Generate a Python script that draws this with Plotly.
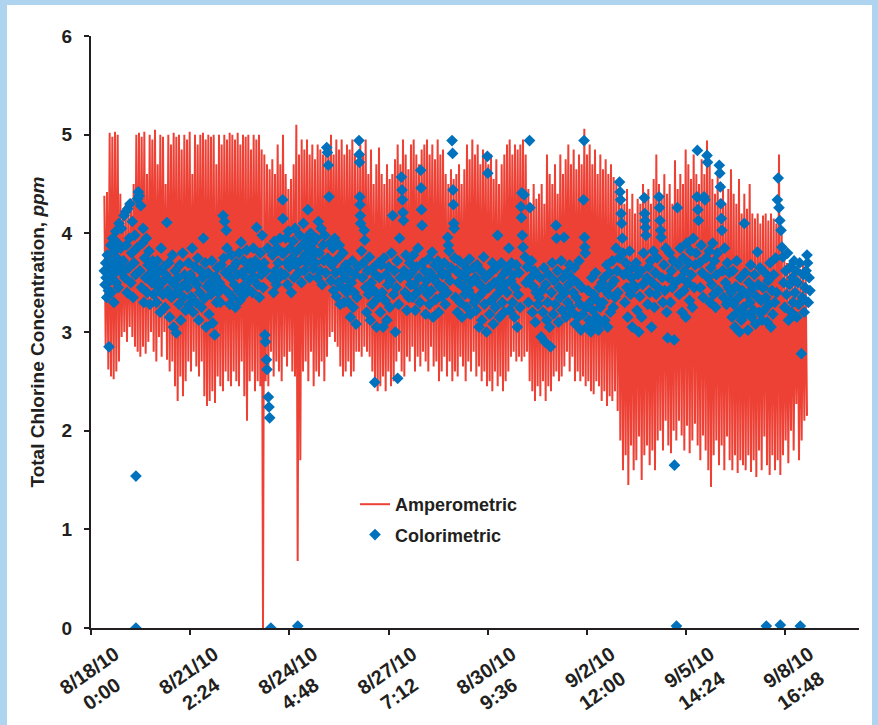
import pandas as pd
import plotly.graph_objects as go

# ---------------- data ----------------
# Amperometric readings (ppm), hourly from 8/18/10 10:00 (alternating swings)
amperometric = [
    4.38,2.85, 4.42,2.62, 5.02,2.55, 4.98,2.52, 5.03,2.6, 5.0,2.7, 4.4,2.95, 4.2,3.0, 4.3,2.9, 4.25,3.05, 4.35,2.95, 4.5,2.85,
    5.0,2.8, 5.02,2.75, 4.98,2.85, 5.03,2.78, 4.6,2.9, 5.0,3.0, 4.95,2.8, 5.05,2.7, 4.7,2.95, 5.0,2.75, 4.98,3.0, 4.5,2.72,
    5.0,2.6, 4.9,2.7, 5.02,2.45, 4.98,2.3, 5.0,2.55, 4.85,2.35, 5.0,2.5, 4.95,2.7, 5.03,2.6, 4.6,2.8, 5.0,2.65, 4.9,2.55,
    5.0,2.7, 5.02,2.35, 4.95,2.25, 5.0,2.3, 4.98,2.4, 5.0,2.28, 4.7,2.55, 5.0,2.45, 4.9,2.4, 5.0,2.6, 4.95,2.5, 5.02,2.45,
    5.0,2.6, 4.95,2.5, 5.02,2.45, 4.9,2.7, 5.0,2.35, 4.98,2.1, 5.0,2.5, 4.85,2.6, 5.0,2.4, 4.95,2.5, 5.0,2.45, 4.85,0.0,
    4.8,2.5, 4.7,2.45, 4.65,2.8, 4.75,2.55, 4.6,2.7, 4.9,2.6, 4.7,2.5, 5.0,2.75, 4.6,2.65, 4.45,2.8, 4.55,2.6, 4.7,2.55,
    5.1,0.68, 4.8,1.7, 4.95,2.6, 4.85,2.7, 4.95,2.5, 4.8,2.8, 4.9,2.45, 4.75,2.6, 4.9,2.55, 4.85,2.7, 4.8,2.5, 4.9,2.75,
    4.9,2.95, 5.0,3.0, 4.8,2.9, 4.95,2.85, 4.85,2.65, 4.95,2.55, 4.8,2.6, 4.9,2.7, 4.85,2.55, 4.95,2.6, 4.8,2.8, 4.7,2.8,
    4.9,2.75, 4.8,2.85, 4.95,2.8, 4.6,2.75, 4.85,2.6, 4.5,2.5, 4.7,2.4, 4.87,2.45, 4.6,2.55, 4.5,2.4, 4.7,2.6, 4.55,2.45,
    4.6,2.5, 4.75,2.7, 4.9,2.8, 4.7,2.6, 4.95,2.55, 4.8,2.75, 4.65,2.7, 4.9,2.85, 4.95,2.6, 4.8,2.75, 4.7,2.65, 4.85,2.8,
    4.9,2.7, 4.95,2.6, 4.8,2.85, 4.9,2.65, 4.75,2.7, 4.95,2.5, 4.8,2.6, 4.85,2.75, 4.6,2.55, 4.5,2.7, 4.65,2.5, 4.55,2.6,
    4.6,2.55, 4.7,2.75, 4.5,2.65, 4.65,2.5, 4.9,2.7, 4.75,2.6, 4.95,2.8, 4.8,2.55, 4.9,2.65, 4.7,2.5, 4.85,2.6, 4.75,2.45,
    4.7,2.5, 4.8,2.4, 4.55,2.6, 4.75,2.45, 4.5,2.55, 4.7,2.4, 4.8,2.5, 4.9,2.6, 4.95,2.75, 4.8,2.8, 4.9,2.7, 4.85,2.75,
    4.9,2.7, 4.95,2.75, 4.8,2.8, 4.45,2.5, 4.3,2.4, 4.5,2.3, 4.35,2.45, 4.4,2.35, 4.5,2.5, 4.3,2.3, 4.8,2.45, 4.6,2.4,
    4.5,2.55, 4.7,2.6, 4.4,2.5, 4.8,2.55, 4.6,2.65, 4.75,2.8, 4.9,2.6, 4.7,2.75, 4.85,2.5, 4.65,2.6, 4.8,2.5, 4.7,2.55,
    5.06,2.45, 4.8,2.5, 4.9,2.4, 4.7,2.37, 4.85,2.5, 4.6,2.45, 4.8,2.3, 4.65,2.4, 4.75,2.25, 4.6,2.35, 4.7,2.3, 4.57,2.4,
    4.5,2.2, 4.35,1.9, 4.4,1.6, 4.3,1.75, 4.45,1.45, 4.25,1.85, 4.4,1.6, 4.2,1.7, 4.35,1.94, 4.3,1.5, 4.5,1.75, 4.4,1.85,
    4.45,1.65, 4.3,1.8, 4.55,1.6, 4.8,1.9, 4.5,2.0, 4.35,1.8, 4.6,2.1, 4.4,1.85, 4.5,1.77, 4.3,2.0, 4.74,1.9, 4.45,2.1,
    4.6,1.95, 4.5,1.8, 4.85,2.05, 4.7,1.77, 4.55,1.9, 4.8,2.07, 4.6,1.85, 4.5,1.7, 4.75,1.95, 4.6,1.8, 4.94,1.6, 4.7,1.43,
    4.55,1.75, 4.4,1.9, 4.6,1.65, 4.35,1.85, 4.5,1.6, 4.3,1.94, 4.45,1.7, 4.65,1.6, 4.4,1.75, 4.3,1.57, 4.55,1.7, 4.2,1.65,
    4.4,1.6, 4.25,1.75, 4.5,1.58, 4.2,1.7, 4.15,1.53, 4.2,1.8, 4.1,1.6, 4.18,1.94, 4.2,1.65, 4.13,1.55, 4.2,1.75, 4.15,1.6,
    4.1,1.7, 4.8,1.55, 4.0,1.75, 3.74,1.9, 3.7,1.67, 3.65,2.0, 3.72,1.8, 3.6,2.27, 3.68,1.7, 3.64,1.9, 3.7,2.1, 3.55,2.15,
]
amp_start = "2010-08-18 10:00"

# Colorimetric grab samples: hours after 8/18/10 0:00 and ppm
col_hours = [
    10.0,10.5,11.0,11.3,11.8,12.2,12.6,13.0,13.5,14.0,14.4,14.8,15.3,15.8,16.2,16.7,17.2,17.6,18.1,18.6,19.0,19.5,20.0,20.5,21.0,21.6,22.2,22.8,23.4,
    24.3,24.8,25.4,26.0,26.5,27.1,27.6,28.2,28.8,29.3,29.9,30.5,31.0,31.6,32.2,32.8,33.4,33.7,33.7,34.3,34.9,35.5,36.1,36.7,37.3,37.9,38.5,39.1,39.7,40.3,40.9,41.5,42.1,42.8,43.5,44.2,44.9,45.6,46.3,47.0,47.7,
    48.4,49.1,49.8,50.5,51.2,51.9,52.6,53.3,54.0,54.7,55.4,56.1,56.9,57.6,58.3,59.0,59.7,60.4,61.1,61.8,62.5,63.2,63.9,64.6,65.3,66.0,66.7,67.4,68.1,68.8,69.5,70.2,70.9,71.6,
    72.4,73.1,73.8,74.5,75.2,75.9,76.6,77.3,78.0,78.7,79.4,80.1,80.8,81.5,82.2,82.9,83.6,84.3,85.0,85.7,86.4,87.1,87.8,88.5,89.2,89.9,90.6,91.3,92.0,92.7,93.4,94.1,94.8,95.5,
    96.3,97.0,97.7,98.4,99.1,99.6,100.2,100.8,101.4,102.0,102.7,103.4,104.1,104.8,105.5,106.2,106.9,107.6,108.3,109.0,109.7,110.4,111.1,111.8,112.5,113.2,113.9,114.6,115.3,116.0,116.7,117.4,118.1,118.8,119.5,
    120.4,121.1,121.8,122.5,123.2,124.2,124.9,125.6,126.3,127.0,127.7,128.4,129.1,129.8,130.4,130.8,131.2,131.6,132.0,132.5,133.0,133.5,134.0,134.9,135.5,136.2,136.9,137.6,138.3,139.0,139.7,140.4,141.1,141.8,142.5,143.2,143.8,143.9,
    144.6,145.3,146.0,146.7,147.4,148.1,148.8,149.5,150.2,150.9,151.6,152.3,153.0,153.7,154.4,155.1,155.8,156.5,157.2,157.9,158.6,159.3,160.0,160.7,161.4,162.1,162.6,163.3,164.0,164.7,165.4,166.1,166.8,167.5,
    168.4,169.1,169.8,170.5,171.2,171.9,172.6,173.3,174.0,174.7,175.4,176.1,176.8,177.3,177.6,178.0,178.5,179.2,179.9,180.6,181.3,182.0,182.7,183.4,184.1,184.8,185.5,186.2,186.9,187.6,188.3,189.0,189.7,190.4,191.1,191.8,
    192.5,193.2,193.9,194.6,195.3,196.0,196.7,197.4,198.1,198.8,199.5,200.2,201.0,201.2,201.4,201.6,201.8,202.0,202.2,202.9,203.6,204.3,205.0,205.3,206.0,206.7,207.4,208.1,208.8,209.5,210.2,210.9,211.6,212.3,212.8,213.5,214.2,214.9,215.6,
    216.3,217.0,217.7,218.4,219.1,219.8,220.5,221.2,221.9,222.6,223.3,224.0,224.7,225.4,226.2,226.9,227.6,228.3,229.0,229.7,230.0,230.7,231.4,232.1,232.8,233.2,233.6,234.0,234.4,234.8,235.5,236.2,236.9,237.6,238.3,239.0,239.7,
    240.4,241.1,241.8,242.5,243.2,243.9,244.6,245.3,246.0,246.7,247.3,247.6,247.9,248.3,248.9,249.6,250.3,251.0,251.7,252.4,253.1,253.8,254.5,255.2,255.9,256.6,257.3,258.0,258.7,259.4,260.1,260.8,261.5,262.2,262.9,263.6,
    264.3,265.0,265.7,266.4,267.1,267.5,268.0,268.5,269.2,270.0,270.8,271.2,271.5,271.8,272.1,272.4,272.7,273.4,274.1,274.8,275.5,276.2,276.9,277.6,278.3,279.0,279.7,280.4,281.1,281.8,282.5,283.2,283.9,284.6,285.3,286.0,286.7,287.4,
    288.2,288.9,289.6,290.3,291.0,291.7,292.4,293.1,293.8,294.5,295.2,295.9,296.6,297.3,297.6,298.3,299.0,299.7,300.4,301.1,301.8,302.5,303.2,303.9,304.6,305.0,305.7,306.4,307.1,307.8,308.5,309.2,309.9,310.6,311.3,
    312.0,312.7,313.4,314.1,314.8,315.5,316.2,316.9,317.6,318.3,319.0,319.7,320.4,321.1,321.8,322.4,322.8,323.1,323.5,324.0,324.8,325.6,326.4,327.1,328.0,328.9,329.2,329.7,330.4,331.1,331.8,332.5,333.2,333.9,334.6,335.3,
    336.2,336.9,337.6,338.3,339.0,339.7,340.4,341.1,341.8,342.5,343.2,343.9,344.6,345.3,346.0,346.7,347.4,348.1,348.8,349.2,349.9,350.6,351.3,352.0,352.7,353.4,354.1,354.8,355.5,356.2,356.9,357.6,358.3,359.0,359.7,
    360.4,361.1,361.8,362.5,363.2,363.9,364.6,365.3,366.0,366.7,367.4,368.1,368.8,369.4,369.8,370.1,370.4,370.7,371.4,372.1,372.8,373.5,374.2,374.9,375.6,376.3,377.0,377.7,378.4,379.1,379.8,380.5,381.2,381.9,382.6,383.3,
    384.0,384.7,385.4,386.1,386.8,387.5,388.2,388.9,389.6,390.3,391.0,391.7,392.4,393.1,393.8,394.5,395.2,395.9,396.4,396.8,397.2,397.6,398.0,398.5,399.0,399.7,400.4,401.1,401.8,402.5,403.2,403.9,404.6,405.3,406.0,406.7,407.4,
    408.1,408.8,409.5,410.2,410.9,411.6,412.3,413.0,413.7,414.4,415.0,415.3,415.6,415.9,416.2,416.9,417.6,418.3,419.0,419.7,420.4,421.1,421.8,422.5,423.2,423.9,424.6,425.3,426.0,426.4,426.8,427.2,427.6,428.3,429.0,429.7,430.4,431.1,431.8,
    432.5,433.2,433.9,434.6,435.3,436.0,436.7,437.4,437.6,438.2,439.1,439.8,440.5,441.2,441.9,442.6,443.3,444.0,444.7,445.4,446.1,446.8,447.5,448.2,448.9,449.6,450.3,451.0,451.7,452.4,453.1,453.8,454.5,454.8,455.2,455.6,
    456.3,457.0,457.7,458.4,459.1,459.8,460.5,461.2,462.0,462.4,462.8,463.5,464.2,464.9,465.6,466.3,467.0,467.7,468.4,469.1,469.8,470.5,471.2,471.6,472.0,472.4,472.8,473.2,473.8,474.5,475.2,475.9,476.6,477.3,478.0,478.7,479.4,
    480.1,480.8,481.5,482.2,482.9,483.6,484.3,485.0,485.7,486.4,487.1,487.8,488.5,489.2,490.0,490.6,491.3,492.0,492.7,493.4,494.1,494.8,495.5,496.2,496.9,497.6,498.3,499.0,499.8,500.4,501.1,501.8,502.5,503.2,
    504.0,504.7,505.4,506.1,506.5,507.2,507.9,508.6,509.3,510.0,510.7,511.4,512.1,512.8,513.5,514.2,514.8,515.4,516.0,516.6,517.0,517.5,518.2,518.9,519.6,520.3,521.0,521.7,522.4,523.1,523.8,524.5,525.2,525.9,526.6,527.3,
    528.0,528.7,529.4,530.1,530.8,531.5,532.0,532.8,533.5,534.2,534.9,535.6,536.3,537.0,537.4,538.0,538.6,539.2,
]
col_vals = [
    3.62,3.48,3.70,3.55,3.35,3.78,3.60,3.42,2.85,3.66,3.52,3.88,3.40,3.71,3.95,3.58,3.30,3.82,3.64,4.02,3.50,3.75,3.90,3.45,4.10,3.68,3.85,4.05,3.60,
    3.72,4.18,3.55,4.22,3.88,3.40,4.25,3.65,3.95,4.30,3.50,3.80,4.12,3.35,3.70,3.98,3.58,1.54,0.00,3.85,4.35,4.42,4.38,3.62,4.28,3.45,3.90,4.05,3.30,3.75,3.55,3.95,3.40,3.68,3.82,3.28,3.60,3.50,3.72,3.38,3.65,
    3.55,3.30,3.72,3.45,3.62,3.20,3.85,3.50,3.38,3.66,3.25,3.58,4.11,3.42,3.70,3.15,3.52,3.35,3.78,3.05,3.48,3.62,2.99,3.40,3.55,3.28,3.68,3.12,3.46,3.80,3.35,3.58,3.22,3.50,
    3.45,3.70,3.28,3.58,3.36,3.85,3.20,3.52,3.66,3.30,3.48,3.75,3.12,3.40,3.62,3.25,3.55,3.95,3.34,3.70,3.05,3.46,3.60,3.18,3.50,3.38,3.72,3.09,3.44,2.97,3.56,3.30,3.65,3.40,
    3.50,3.30,3.68,3.45,4.18,3.75,4.12,3.60,4.03,3.85,3.40,3.62,3.28,3.55,3.78,3.35,3.66,3.48,3.25,3.70,3.58,3.42,3.80,3.32,3.91,3.60,3.46,3.72,3.38,3.55,3.83,3.44,3.65,3.52,3.70,
    3.62,3.40,3.85,3.55,3.72,4.06,3.48,3.66,3.35,3.80,3.58,3.98,3.45,3.70,2.97,2.90,3.62,2.72,2.62,3.85,2.34,2.24,2.13,0.00,3.55,3.78,3.40,3.92,3.62,3.48,3.85,3.70,3.55,3.95,3.60,3.80,4.34,4.15,
    3.80,3.58,3.95,3.70,3.48,4.02,3.66,3.85,3.40,3.75,3.92,3.55,4.05,3.68,3.82,0.02,3.60,3.98,3.72,3.50,3.88,4.10,3.62,3.78,3.95,3.70,4.24,3.85,3.55,4.00,3.76,3.90,3.64,3.82,
    3.70,3.95,3.55,4.12,3.80,3.62,4.05,3.48,3.88,3.72,3.98,3.60,4.87,4.82,3.75,4.69,4.37,3.90,3.52,3.68,3.85,3.42,3.95,3.60,3.36,3.74,3.50,3.88,3.28,3.62,3.45,3.80,3.30,3.55,3.68,3.40,
    3.45,3.30,3.62,3.15,3.50,3.72,3.25,3.40,3.58,3.08,3.35,3.66,4.94,4.80,4.72,4.37,4.29,4.18,4.10,3.82,3.55,3.70,4.03,3.93,3.45,3.20,3.62,3.38,3.76,3.12,3.50,3.28,3.65,3.42,2.49,3.58,3.05,3.34,3.70,
    3.55,3.20,3.68,3.40,3.05,3.75,3.32,3.58,3.12,3.48,3.66,3.25,3.52,3.80,4.18,3.38,3.62,3.00,3.45,3.72,2.53,3.28,3.95,3.55,4.57,4.44,4.34,4.21,4.13,3.62,3.40,3.78,3.22,3.56,3.35,3.70,3.48,
    3.60,3.35,3.78,3.48,3.22,3.66,3.40,3.85,3.55,3.30,4.64,4.46,4.24,4.08,3.70,3.45,3.62,3.18,3.52,3.38,3.74,3.28,3.60,3.42,3.81,3.15,3.55,3.68,3.33,3.50,3.72,3.20,3.46,3.62,3.36,3.58,
    3.45,3.70,3.28,3.58,3.40,3.96,3.88,3.82,3.52,3.65,4.94,4.81,4.44,4.29,4.10,4.05,3.75,3.35,3.62,3.20,3.50,3.72,3.30,3.58,3.15,3.46,3.68,3.38,3.55,3.25,3.62,3.42,3.74,3.18,3.50,3.36,3.65,3.30,
    3.55,3.22,3.68,3.35,3.05,3.48,3.62,3.12,3.40,3.76,3.28,3.55,3.00,4.78,4.61,3.45,3.18,3.60,3.32,3.70,3.08,3.50,3.25,3.65,3.38,3.98,3.52,3.15,3.44,3.70,3.30,3.58,3.20,3.48,3.62,
    3.40,3.65,3.85,3.22,3.52,3.70,3.30,3.58,3.15,3.45,3.68,3.05,3.38,3.60,3.25,4.27,4.16,4.41,3.98,3.86,4.39,3.76,3.50,3.66,3.30,4.94,4.26,3.55,3.72,3.20,3.46,3.62,3.10,3.40,3.58,3.28,
    3.35,3.55,2.95,3.42,3.20,3.65,2.90,3.48,3.12,3.30,3.58,3.05,2.85,3.40,3.70,3.18,3.52,3.28,4.08,3.95,3.62,3.10,3.45,3.35,3.72,3.22,3.55,3.96,3.40,3.15,3.60,3.30,3.48,3.68,3.25,
    3.55,3.20,3.40,3.65,3.08,3.35,3.50,3.15,3.72,3.28,3.02,3.45,3.18,4.34,4.94,3.96,3.86,3.80,3.25,3.05,3.42,3.12,3.30,3.00,3.55,3.22,3.38,3.08,3.60,3.15,3.32,3.02,3.45,3.25,3.10,3.50,
    3.30,3.55,3.12,3.42,3.68,3.05,3.38,3.60,3.20,3.48,3.72,3.25,3.52,3.35,3.85,3.62,3.40,3.75,4.52,4.42,4.34,4.20,4.10,3.95,3.80,3.58,3.30,3.70,3.45,3.15,3.62,3.82,3.38,3.55,3.05,3.48,3.66,
    3.45,3.70,3.22,3.58,3.00,3.36,3.62,3.15,3.48,3.80,4.36,4.20,4.13,4.06,3.98,3.55,3.28,3.66,3.40,3.72,3.05,3.50,3.82,3.25,3.60,3.38,3.75,3.45,4.37,4.26,4.13,4.03,3.96,3.55,3.30,3.68,3.42,3.85,3.20,
    2.94,3.55,3.80,3.30,3.62,3.45,3.72,2.92,1.65,3.50,0.02,4.26,3.68,3.38,3.85,3.55,3.20,3.75,3.42,3.62,3.15,3.90,3.50,3.70,3.32,3.82,3.58,3.25,3.95,3.45,3.68,3.80,4.37,4.84,4.24,4.13,
    3.70,3.45,3.88,3.60,3.35,4.37,4.34,3.75,4.79,4.72,3.55,3.82,3.30,3.65,3.48,3.90,3.38,3.72,3.25,3.58,3.80,3.42,4.69,4.61,4.47,4.30,4.15,4.03,3.62,3.35,3.85,3.50,3.28,3.70,3.45,3.60,3.32,
    3.40,3.15,3.62,3.28,3.05,3.46,3.72,3.20,3.35,3.00,3.55,3.12,3.42,3.25,4.10,3.60,3.18,3.38,3.02,3.50,3.30,3.68,3.15,3.44,3.22,3.58,3.08,3.36,3.81,3.48,3.20,3.65,3.32,3.12,
    3.45,3.22,3.60,3.35,0.02,3.10,3.52,3.28,3.70,3.05,3.42,3.18,3.58,3.30,3.75,3.40,4.34,4.56,4.26,4.13,0.03,4.03,3.86,3.76,3.50,3.25,3.62,3.38,3.80,3.12,3.48,3.66,3.20,3.55,3.30,3.72,
    3.40,3.62,3.15,3.50,3.28,3.70,0.02,2.78,3.35,3.58,3.20,3.45,3.62,3.78,3.70,3.30,3.55,3.42,
]
assert len(col_hours) == len(col_vals)

tick_dates = ["2010-08-18 00:00", "2010-08-21 02:24", "2010-08-24 04:48", "2010-08-27 07:12",
              "2010-08-30 09:36", "2010-09-02 12:00", "2010-09-05 14:24", "2010-09-08 16:48"]
tick_dates_text = ["8/18/10", "8/21/10", "8/24/10", "8/27/10", "8/30/10", "9/2/10", "9/5/10", "9/8/10"]
tick_times_text = ["0:00", "2:24", "4:48", "7:12", "9:36", "12:00", "14:24", "16:48"]
x_range = ["2010-08-18 00:00", "2010-09-11 00:00"]

# ---------------- figure ----------------
amp_x = pd.date_range(amp_start, periods=len(amperometric), freq="h")
col_x = pd.Timestamp("2010-08-18 00:00") + pd.to_timedelta(col_hours, unit="h")

# two-line labels; trailing no-break spaces centre the shorter time line under the date
tick_labels = []
for d, t in zip(tick_dates_text, tick_times_text):
    pad = "\u00a0" * (3 if len(t) == 4 else 1)
    tick_labels.append(f"{d}<br>{t}{pad}")

RED = "#EE4136"
BLUE = "#0071BC"
INK = "#231F20"
FONT = "Liberation Sans, Arial, sans-serif"

fig = go.Figure()
fig.add_trace(go.Scatter(x=amp_x, y=amperometric, mode="lines", name="Amperometric",
                         legendgroup="a", line=dict(color=RED, width=2)))
fig.add_trace(go.Scatter(x=col_x, y=col_vals, mode="markers", name="Colorimetric",
                         legendgroup="c",
                         marker=dict(symbol="diamond", size=9, color=BLUE, line=dict(width=0))))

L, R, T, B = 91, 19, 36, 97
W, H = 878, 725
pw, ph = W - L - R, H - T - B

fig.update_layout(
    width=W, height=H,
    margin=dict(l=L, r=R, t=T, b=B, pad=0, autoexpand=False),
    paper_bgcolor="#AFD4F0",
    plot_bgcolor="white",
    font=dict(family=FONT, color=INK),
    showlegend=True,
    legend=dict(x=(355 - L) / pw, y=(628 - 486) / ph, xanchor="left", yanchor="top",
                bgcolor="rgba(0,0,0,0)", font=dict(size=18, weight=700, color=INK),
                itemwidth=30, traceorder="grouped", tracegroupgap=4),
    shapes=[dict(type="rect", xref="paper", yref="paper", layer="below",
                 x0=(7 - L) / pw, x1=(872 - L) / pw, y0=(628 - 740) / ph, y1=(628 - 5) / ph,
                 fillcolor="white", line=dict(width=0))],
)
fig.update_xaxes(
    type="date", range=x_range, tickmode="array", tickvals=tick_dates, ticktext=tick_labels,
    tickangle=-35, ticks="outside", ticklen=5, tickwidth=2, tickcolor=INK,
    showline=True, linecolor=INK, linewidth=2, showgrid=False, zeroline=False, automargin=False,
    tickfont=dict(size=20, weight=700, color=INK), ticklabelshift=24,
)
fig.update_yaxes(
    range=[0, 6], tickmode="array", tickvals=[0, 1, 2, 3, 4, 5, 6],
    ticks="outside", ticklen=5, tickwidth=2, tickcolor=INK,
    showline=True, linecolor=INK, linewidth=2, showgrid=False, zeroline=False, automargin=False,
    tickfont=dict(size=19, weight=700, color=INK), ticklabelstandoff=8,
    title=dict(text="Total Chlorine Concentration, <i>ppm</i>", standoff=12,
               font=dict(size=19, weight=700, color=INK)),
)

fig.write_html("out.html", post_script="document.body.style.margin='0';",
               config={"displayModeBar": False})
